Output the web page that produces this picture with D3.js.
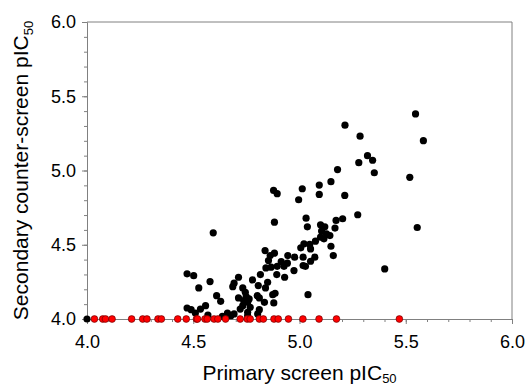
<!DOCTYPE html>
<html>
<head>
<meta charset="utf-8">
<script src="https://cdn.jsdelivr.net/npm/d3@7"></script>
<style>
	body { margin: 0; background: #fff; }
	svg { display: block; font-family: "Liberation Sans", Arial, sans-serif; }
	.axis path, .axis line { stroke: #808080; }
	.axis text { fill: #000; font-size: 18px; font-family: "Liberation Sans", Arial, sans-serif; }
</style>
</head>
<body>
<svg id="chart"></svg>
<script>
// primary screen pIC50 (x) and secondary counter-screen pIC50 (y), active compounds
var activeX = [4.00, 5.546, 5.214, 5.285, 5.583, 5.320, 5.344, 5.279, 5.352, 5.179, 5.519, 5.148, 5.093, 5.013,
	4.878, 4.895, 5.093, 5.213, 4.996, 5.274, 5.031, 5.203, 5.172, 4.882, 5.099, 5.037, 5.119, 5.554, 5.167,
	4.594, 5.104, 5.127, 5.143, 5.099, 5.115, 5.075, 5.048, 5.021, 5.148, 5.052, 5.006, 4.838, 4.882, 4.862,
	5.159, 5.017, 4.945, 4.977, 5.072, 5.052, 4.854, 4.914, 4.943, 5.017, 5.028, 4.895, 4.927, 4.866, 4.842,
	5.401, 4.974, 4.471, 4.502, 4.893, 4.816, 4.930, 4.713, 4.779, 4.579, 4.692, 4.850, 4.686, 4.806, 4.733,
	4.526, 4.840, 4.745, 4.885, 4.874, 5.040, 4.610, 4.801, 4.749, 4.713, 4.763, 4.811, 4.737, 4.629, 4.835,
	4.879, 4.756, 4.558, 4.733, 4.534, 4.471, 4.490, 4.768, 4.721, 4.811, 4.510, 4.661, 4.692, 4.677, 4.569,
	4.756, 4.637, 4.756, 4.803];
var activeY = [4.00, 5.381, 5.305, 5.231, 5.201, 5.100, 5.069, 5.053, 4.985, 5.006, 4.954, 4.925, 4.902, 4.877,
	4.866, 4.844, 4.839, 4.832, 4.803, 4.702, 4.679, 4.675, 4.664, 4.652, 4.634, 4.621, 4.621, 4.616, 4.612,
	4.580, 4.592, 4.574, 4.562, 4.551, 4.540, 4.524, 4.502, 4.506, 4.490, 4.472, 4.479, 4.461, 4.443, 4.427,
	4.427, 4.416, 4.427, 4.416, 4.416, 4.389, 4.394, 4.387, 4.376, 4.360, 4.355, 4.355, 4.355, 4.349, 4.344,
	4.337, 4.326, 4.304, 4.292, 4.299, 4.299, 4.281, 4.281, 4.263, 4.252, 4.241, 4.247, 4.218, 4.225, 4.209,
	4.209, 4.209, 4.180, 4.173, 4.164, 4.164, 4.157, 4.157, 4.151, 4.142, 4.135, 4.142, 4.124, 4.119, 4.112,
	4.108, 4.112, 4.090, 4.090, 4.067, 4.074, 4.063, 4.079, 4.067, 4.063, 4.040, 4.040, 4.034, 4.022, 4.027,
	4.022, 4.018, 4.045, 4.034];
// compounds inactive in the counter-screen (plotted at 4.0)
var inactiveX = [4.035, 4.074, 4.087, 4.118, 4.210, 4.262, 4.282, 4.334, 4.350, 4.427, 4.467, 4.515, 4.520,
	4.555, 4.566, 4.598, 4.616, 4.652, 4.721, 4.754, 4.768, 4.811, 4.830, 4.880, 4.900, 4.948, 5.016, 5.092,
	5.174, 5.470];
var inactiveY = inactiveX.map(function() { return 4.0; });
var majorTicks = [4.0, 4.5, 5.0, 5.5, 6.0];
var minorTicks = d3.range(40, 61).map(function(d) { return d / 10; });

var width = 525, height = 388;
var margin = { "top": 22, "right": 13, "bottom": 69, "left": 87 };

var svg = d3.select("#chart")
	.attr("width", width)
	.attr("height", height);

var x = d3.scaleLinear()
	.domain([4, 6])
	.range([margin.left, width - margin.right]);
var y = d3.scaleLinear()
	.domain([4, 6])
	.range([height - margin.bottom, margin.top]);

// frame: top and right borders
svg.append("path")
	.attr("d", "M" + x(4) + "," + y(6) + "H" + x(6) + "V" + y(4))
	.attr("fill", "none")
	.attr("stroke", "#808080");

// minor ticks
svg.append("g")
	.attr("class", "axis")
	.attr("transform", "translate(0," + y(4) + ")")
	.call(d3.axisBottom(x).tickValues(minorTicks).tickSize(3).tickFormat(""));
svg.append("g")
	.attr("class", "axis")
	.attr("transform", "translate(" + x(4) + ",0)")
	.call(d3.axisLeft(y).tickValues(minorTicks).tickSize(3).tickFormat(""));

// major ticks and labels
svg.append("g")
	.attr("class", "axis")
	.attr("transform", "translate(0," + y(4) + ")")
	.call(d3.axisBottom(x).tickValues(majorTicks).tickSize(5).tickPadding(11).tickFormat(d3.format(".1f")))
	.call(function(g) { g.select(".domain").remove(); });
svg.append("g")
	.attr("class", "axis")
	.attr("transform", "translate(" + x(4) + ",0)")
	.call(d3.axisLeft(y).tickValues(majorTicks).tickSize(5).tickPadding(6).tickFormat(d3.format(".1f")))
	.call(function(g) { g.select(".domain").remove(); });

// black points
svg.append("g").selectAll("circle")
	.data(d3.zip(activeX, activeY))
	.enter()
	.append("circle")
	.attr("cx", function(d) { return x(d[0]); })
	.attr("cy", function(d) { return y(d[1]); })
	.attr("r", 3.6)
	.attr("fill", "#000");

// red points
svg.append("g").selectAll("circle")
	.data(d3.zip(inactiveX, inactiveY))
	.enter()
	.append("circle")
	.attr("cx", function(d) { return x(d[0]); })
	.attr("cy", function(d) { return y(d[1]); })
	.attr("r", 3.4)
	.attr("fill", "#ff0000")
	.attr("stroke", "#5a0000")
	.attr("stroke-width", 0.6);

// axis titles
var xt = svg.append("text")
	.attr("x", (x(4) + x(6)) / 2)
	.attr("y", 380)
	.attr("text-anchor", "middle")
	.attr("font-size", 21);
xt.append("tspan").text("Primary screen pIC");
xt.append("tspan").attr("font-size", 13).attr("dy", 3).text("50");

var yt = svg.append("text")
	.attr("transform", "translate(28," + ((y(4) + y(6)) / 2) + ") rotate(-90)")
	.attr("text-anchor", "middle")
	.attr("font-size", 21);
yt.append("tspan").text("Secondary counter-screen pIC");
yt.append("tspan").attr("font-size", 13).attr("dy", 5).text("50");
</script>
</body>
</html>
